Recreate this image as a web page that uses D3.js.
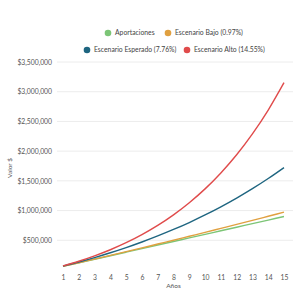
<!DOCTYPE html>
<html>
<head>
<meta charset="utf-8">
<script src="https://cdn.jsdelivr.net/npm/d3@7"></script>
<style>
  body { margin: 0; background: #fff; }
  text { font-family: Lato, "Open Sans", sans-serif; }
</style>
</head>
<body>
<svg id="chart" width="300" height="300"></svg>
<script>
// years on the x axis
const years = [1, 2, 3, 4, 5, 6, 7, 8, 9, 10, 11, 12, 13, 14, 15];

const aportaciones = [60000, 120000, 180000, 240000, 300000, 360000, 420000, 480000,
    540000, 600000, 660000, 720000, 780000, 840000, 900000];
const bajo = [61000, 122000, 184000, 246000, 309000, 372000, 437000, 501000,
    567000, 633000, 700000, 767000, 835000, 904000, 973000];
const esperado = [65000, 134000, 209000, 290000, 377000, 471000, 573000, 682000,
    799000, 926000, 1063000, 1210000, 1368000, 1539000, 1723000];
const alto = [69000, 147000, 238000, 341000, 459000, 595000, 750000, 928000,
    1132000, 1365000, 1633000, 1939000, 2290000, 2691000, 3152000];

const seriesNames = ["Aportaciones", "Escenario Bajo (0.97%)", "Escenario Esperado (7.76%)", "Escenario Alto (14.55%)"];
const seriesColors = ["#7cc576", "#e0a040", "#1e6580", "#e04b4b"];
const yTicks = [500000, 1000000, 1500000, 2000000, 2500000, 3000000, 3500000];

const margin = { top: 62, right: 7, bottom: 30, left: 57 };
const width = 300 - margin.left - margin.right;
const height = 300 - margin.top - margin.bottom;

const svg = d3.select("#chart");
const g = svg.append("g").attr("transform", `translate(${margin.left},${margin.top})`);

const x = d3.scaleLinear().domain([1, 15]).range([6, 227]);
const y = d3.scaleLinear().domain([0, 3500000]).range([height, 0]);

// gridlines
g.selectAll(".grid")
    .data(yTicks)
    .join("line")
    .attr("x1", 0).attr("x2", width)
    .attr("y1", d => y(d)).attr("y2", d => y(d))
    .attr("stroke", "#ececec").attr("stroke-width", 1);

const yAxis = g.append("g")
    .call(d3.axisLeft(y).tickValues(yTicks).tickSize(0).tickPadding(5)
        .tickFormat(d => "$" + d3.format(",")(d)));
yAxis.select(".domain").remove();
yAxis.selectAll("text").attr("font-size", 6.8).attr("fill", "#555");

const xAxis = g.append("g")
    .attr("transform", `translate(0,${height})`)
    .call(d3.axisBottom(x).tickValues(years).tickSize(0).tickPadding(5).tickFormat(d3.format("d")));
xAxis.select(".domain").remove();
xAxis.selectAll("text").attr("font-size", 6.8).attr("fill", "#555");

// axis titles
svg.append("text")
    .attr("x", x(8) + margin.left).attr("y", 288)
    .attr("text-anchor", "middle").attr("font-size", 6.5).attr("fill", "#555")
    .text("Años");
svg.append("text")
    .attr("transform", `translate(12,${margin.top + height / 2 + 2}) rotate(-90)`)
    .attr("text-anchor", "middle").attr("font-size", 6.5).attr("fill", "#555")
    .text("Valor $");

const line = d3.line()
    .x((d, i) => x(years[i]))
    .y(d => y(d))
    .curve(d3.curveMonotoneX);

const allSeries = [aportaciones, bajo, esperado, alto];
g.selectAll(".series")
    .data(allSeries)
    .join("path")
    .attr("d", d => line(d))
    .attr("fill", "none")
    .attr("stroke", (d, i) => seriesColors[i])
    .attr("stroke-width", 1.4);

// legend
const legendPos = [[108, 33], [168, 33], [87, 50], [187, 50]];
const legend = svg.selectAll(".legend")
    .data(seriesNames)
    .join("g")
    .attr("transform", (d, i) => `translate(${legendPos[i][0]},${legendPos[i][1]})`);
legend.append("circle").attr("r", 3.3).attr("fill", (d, i) => seriesColors[i]);
legend.append("text")
    .attr("x", 7).attr("y", 2.3)
    .attr("font-size", 6.8).attr("fill", "#444")
    .text(d => d);
</script>
</body>
</html>
